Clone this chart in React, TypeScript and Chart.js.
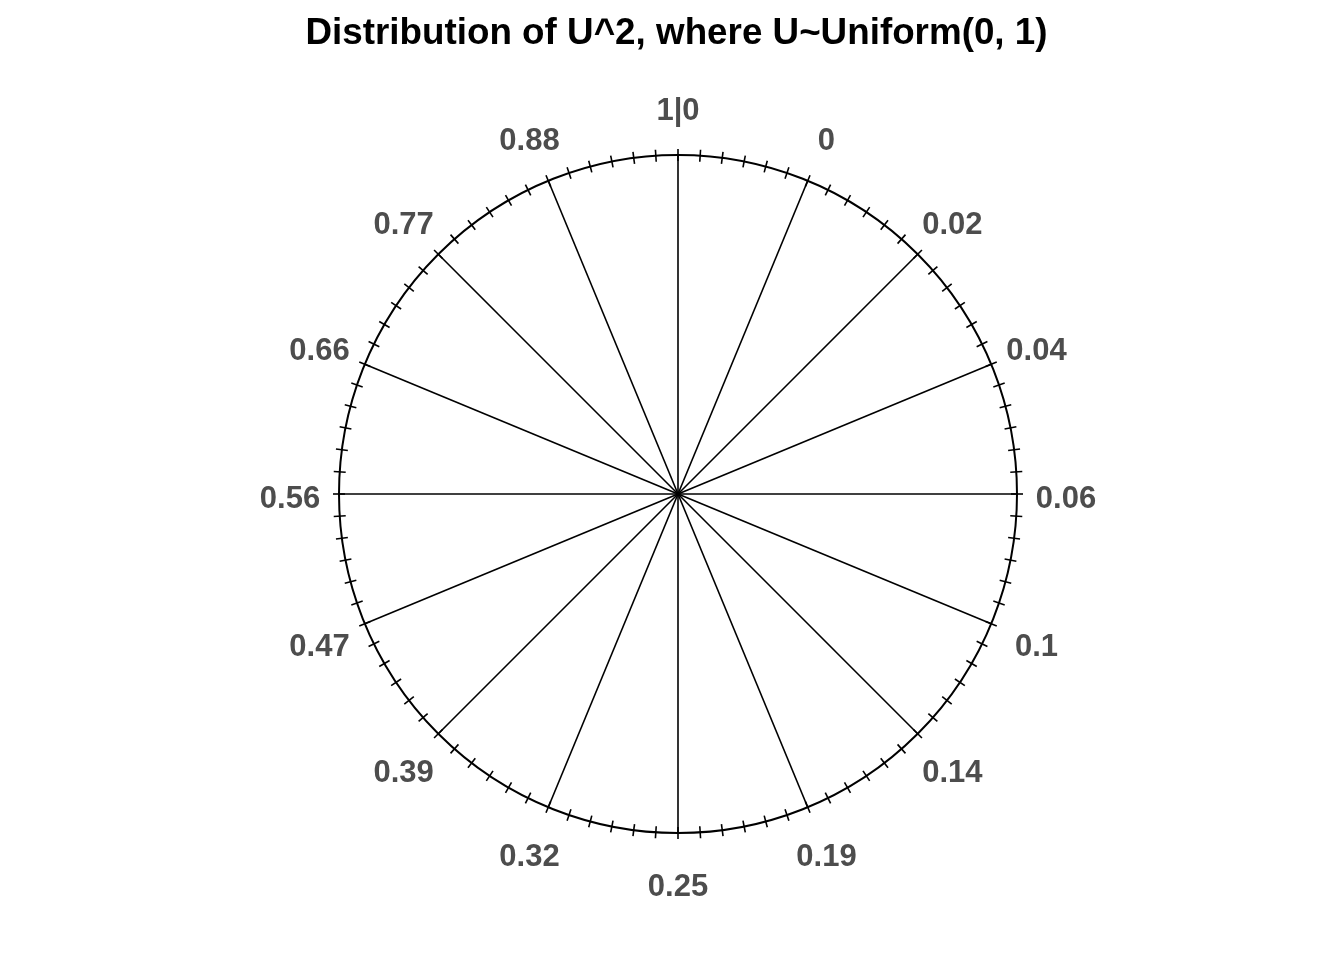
import React, { useEffect, useRef } from "react";
import { Chart, registerables } from "chart.js";

Chart.register(...registerables);

const TITLE = "Distribution of U^2, where U~Uniform(0, 1)";
// quantiles of U^2 at k/16 of the circle, clockwise from the top
const quantileLabels = [
  "1|0", "0", "0.02", "0.04", "0.06", "0.1", "0.14", "0.19",
  "0.25", "0.32", "0.39", "0.47", "0.56", "0.66", "0.77", "0.88",
];
const minorTicksPerSector = 6;

export default function App() {
  const ref = useRef<HTMLCanvasElement>(null);

  useEffect(() => {
    if (!ref.current) return;
    const decor = {
      id: "circularDecor",
      afterDraw(chart: any) {
        const scale = chart.scales.r;
        const ctx = chart.ctx as CanvasRenderingContext2D;
        const R = scale.drawingArea;
        const n = quantileLabels.length * minorTicksPerSector;
        ctx.save();
        // tick marks across the circle
        ctx.strokeStyle = "#000000";
        ctx.lineWidth = 1.6;
        for (let j = 0; j < n; j++) {
          const idx = j / minorTicksPerSector;
          const a = scale.getPointPosition(idx, R - 6);
          const b = scale.getPointPosition(idx, R + 6);
          ctx.beginPath();
          ctx.moveTo(a.x, a.y);
          ctx.lineTo(b.x, b.y);
          ctx.stroke();
        }
        // quantile labels
        ctx.fillStyle = "#4D4D4D";
        ctx.font = "bold 31px 'Liberation Sans', Arial, sans-serif";
        ctx.textAlign = "center";
        ctx.textBaseline = "alphabetic";
        quantileLabels.forEach((lab, i) => {
          const p = scale.getPointPosition(i, R + 49);
          ctx.fillText(lab, p.x, p.y + 14);
        });
        // title (condensed bold)
        ctx.fillStyle = "#000000";
        ctx.font = "bold 37px 'Liberation Sans', Arial, sans-serif";
        const w = ctx.measureText(TITLE).width;
        ctx.translate(scale.xCenter - 1.5, 44);
        ctx.scale(742 / w, 1);
        ctx.textAlign = "center";
        ctx.fillText(TITLE, 0, 0);
        ctx.restore();
      },
    };

    const chart = new Chart(ref.current, {
      type: "radar",
      data: {
        labels: quantileLabels,
        datasets: [],
      },
      options: {
        animation: false,
        responsive: false,
        devicePixelRatio: 1,
        layout: { padding: { left: 339, right: 327, top: 155, bottom: 127 } },
        plugins: {
          legend: { display: false },
          title: { display: false },
          tooltip: { enabled: false },
        },
        scales: {
          r: {
            min: 0,
            max: 1,
            ticks: { display: false, stepSize: 1 },
            pointLabels: { display: false },
            grid: { circular: true, color: "#000000", lineWidth: 2 },
            angleLines: { display: true, color: "#000000", lineWidth: 1.6 },
          },
        },
      },
      plugins: [decor],
    });
    return () => chart.destroy();
  }, []);

  return (
    <div style={{ position: "fixed", left: 0, top: 0, width: 1344, height: 960, background: "#ffffff" }}>
      <canvas ref={ref} width={1344} height={960} style={{ width: 1344, height: 960, display: "block" }} />
    </div>
  );
}
